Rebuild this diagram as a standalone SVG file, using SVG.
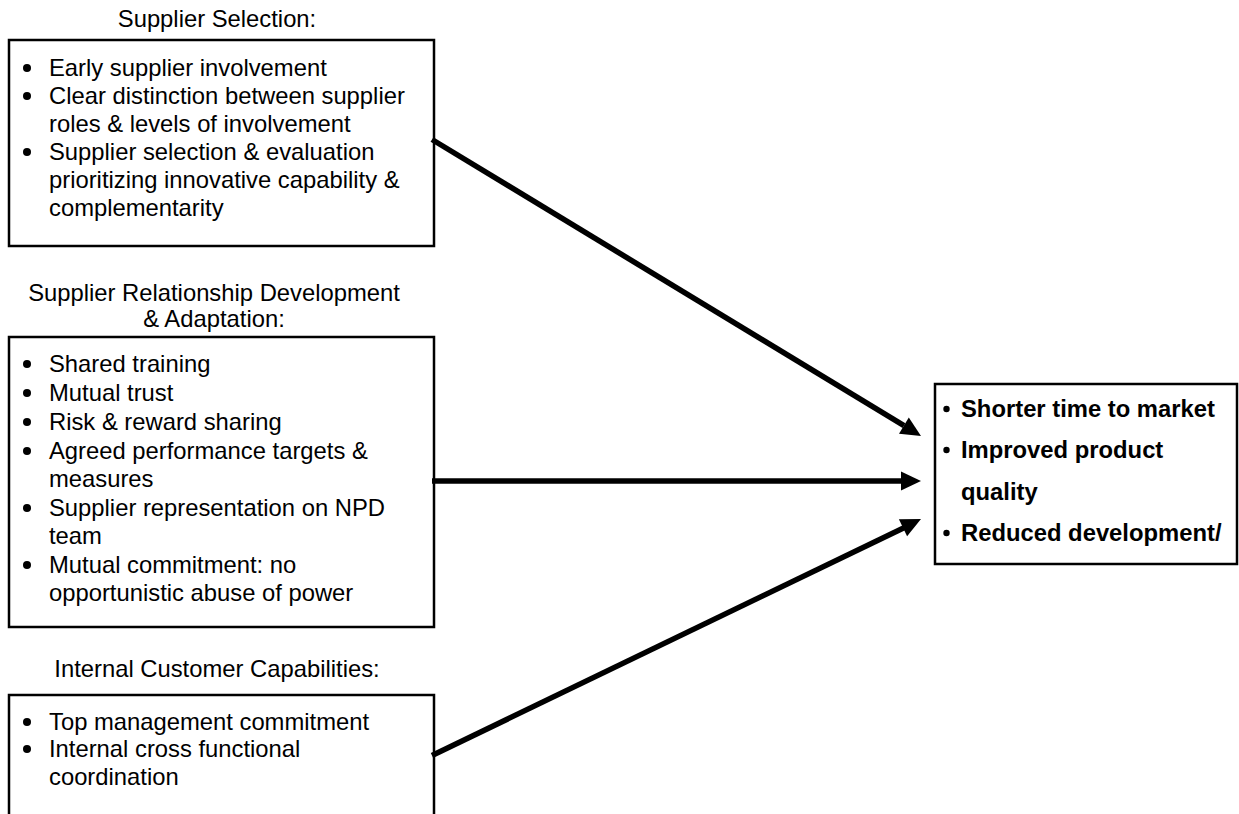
<svg xmlns="http://www.w3.org/2000/svg" width="1239" height="814" viewBox="0 0 1239 814">
<style>
.box{fill:#fff;stroke:#000;stroke-width:2.5}
.t{font-family:"Liberation Sans",Arial,sans-serif;font-size:23.8px;fill:#000}
.h{text-anchor:middle}
.b{font-weight:bold}
.bul{fill:#000}
.arr{stroke:#000;stroke-width:5.5;fill:none}
.head{fill:#000;stroke:none}
</style>
<rect width="1239" height="814" fill="#fff"/>

<g id="supplier-selection">
<text class="t h" x="217" y="27">Supplier Selection:</text>
<rect class="box" x="9" y="40" width="425" height="206"/>
<circle class="bul" cx="27" cy="68" r="4"/>
<circle class="bul" cx="27" cy="96" r="4"/>
<circle class="bul" cx="27" cy="152" r="4"/>
<text class="t" x="49" y="76">Early supplier involvement</text>
<text class="t" x="49" y="104">Clear distinction between supplier</text>
<text class="t" x="49" y="132">roles &amp; levels of involvement</text>
<text class="t" x="49" y="160">Supplier selection &amp; evaluation</text>
<text class="t" x="49" y="188">prioritizing innovative capability &amp;</text>
<text class="t" x="49" y="216">complementarity</text>
</g>

<g id="supplier-relationship">
<text class="t h" x="214" y="301">Supplier Relationship Development</text>
<text class="t h" x="214" y="327">&amp; Adaptation:</text>
<rect class="box" x="9" y="337" width="425" height="290"/>
<circle class="bul" cx="27" cy="364" r="4"/>
<circle class="bul" cx="27" cy="393" r="4"/>
<circle class="bul" cx="27" cy="422" r="4"/>
<circle class="bul" cx="27" cy="451" r="4"/>
<circle class="bul" cx="27" cy="508" r="4"/>
<circle class="bul" cx="27" cy="565" r="4"/>
<text class="t" x="49" y="372">Shared training</text>
<text class="t" x="49" y="401">Mutual trust</text>
<text class="t" x="49" y="430">Risk &amp; reward sharing</text>
<text class="t" x="49" y="459">Agreed performance targets &amp;</text>
<text class="t" x="49" y="487">measures</text>
<text class="t" x="49" y="516">Supplier representation on NPD</text>
<text class="t" x="49" y="544">team</text>
<text class="t" x="49" y="573">Mutual commitment: no</text>
<text class="t" x="49" y="601">opportunistic abuse of power</text>
</g>

<g id="internal-capabilities">
<text class="t h" x="217" y="677">Internal Customer Capabilities:</text>
<rect class="box" x="9" y="695" width="425" height="140"/>
<circle class="bul" cx="27" cy="722" r="4"/>
<circle class="bul" cx="27" cy="749" r="4"/>
<text class="t" x="49" y="730">Top management commitment</text>
<text class="t" x="49" y="757">Internal cross functional</text>
<text class="t" x="49" y="785">coordination</text>
</g>

<g id="outcomes">
<rect class="box" x="935" y="384" width="302" height="180"/>
<circle class="bul" cx="946.5" cy="409" r="3.2"/>
<circle class="bul" cx="946.5" cy="450" r="3.2"/>
<circle class="bul" cx="946.5" cy="533" r="3.2"/>
<text class="t b" x="961" y="417">Shorter time to market</text>
<text class="t b" x="961" y="458">Improved product</text>
<text class="t b" x="961" y="500">quality</text>
<text class="t b" x="961" y="541">Reduced development/</text>
</g>

<g id="connectors">
<line class="arr" x1="432" y1="139.5" x2="904" y2="425.6"/>
<polygon class="head" points="921,436 899,433.7 908.8,417.5"/>
<line class="arr" x1="432" y1="481" x2="902" y2="481"/>
<polygon class="head" points="921,481 901,471.5 901,490.5"/>
<line class="arr" x1="432" y1="755.5" x2="904" y2="527.7"/>
<polygon class="head" points="921,519 907.1,536.3 898.9,519.2"/>
</g>
</svg>
